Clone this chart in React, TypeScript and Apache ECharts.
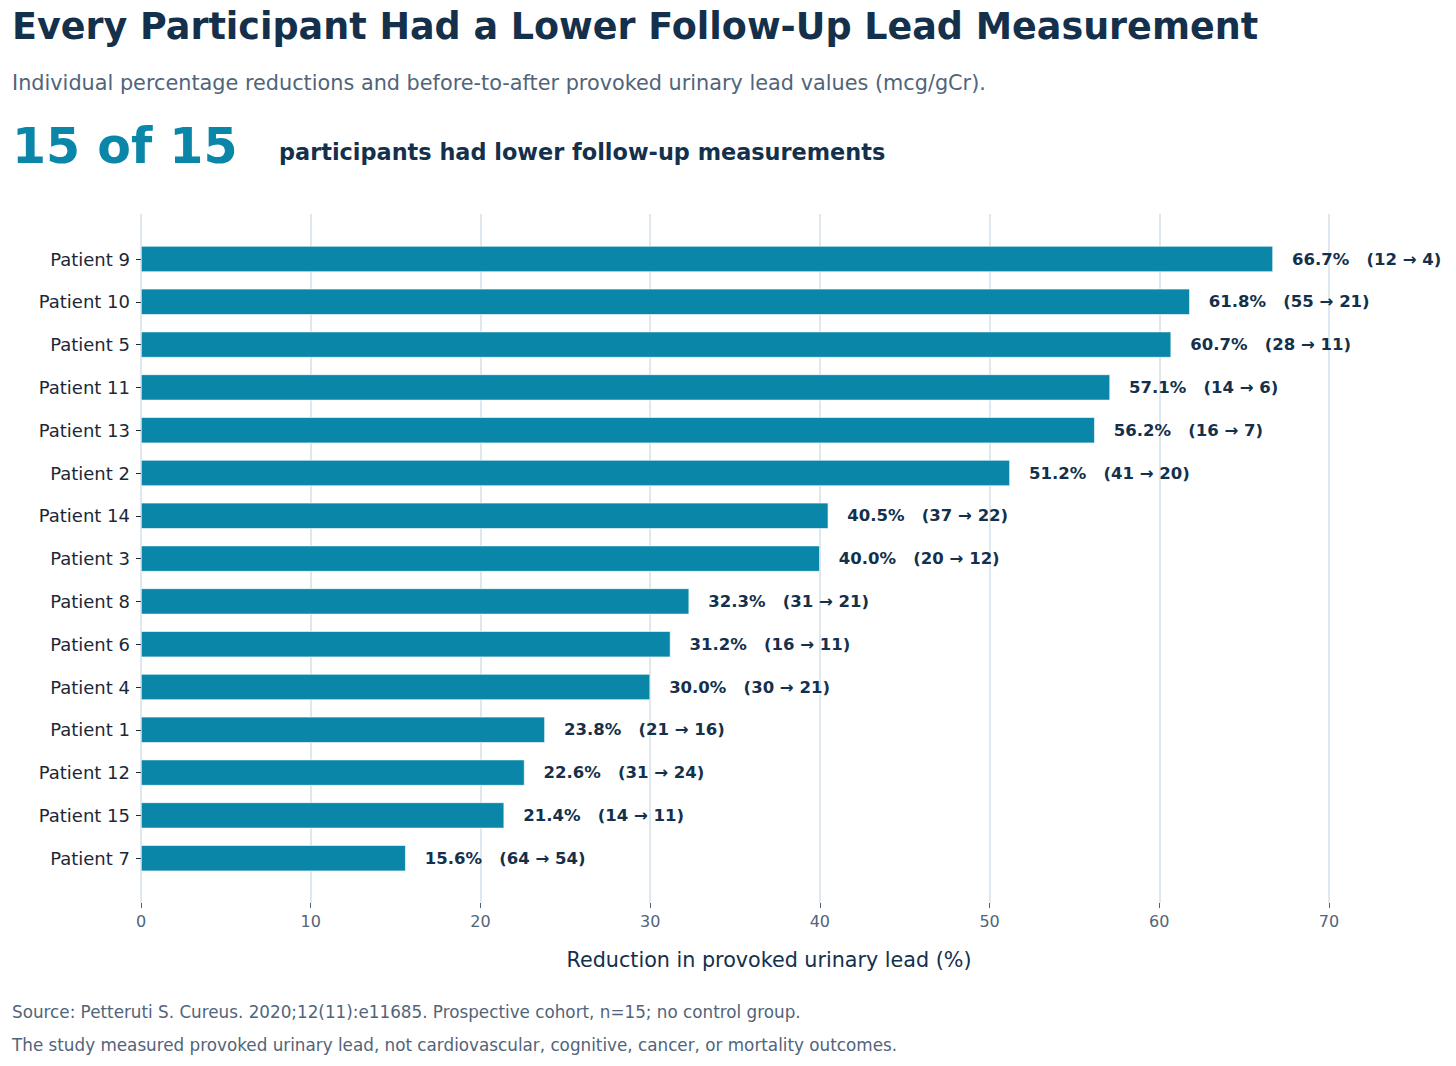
import React, { useEffect, useRef } from 'react';
import * as echarts from 'echarts';

// top-to-bottom order as shown
const patients = [
  'Patient 9', 'Patient 10', 'Patient 5', 'Patient 11', 'Patient 13',
  'Patient 2', 'Patient 14', 'Patient 3', 'Patient 8', 'Patient 6',
  'Patient 4', 'Patient 1', 'Patient 12', 'Patient 15', 'Patient 7',
];
const reductions = [66.7, 61.8, 60.7, 57.1, 56.2, 51.2, 40.5, 40.0, 32.3, 31.2, 30.0, 23.8, 22.6, 21.4, 15.6];
const before = [12, 55, 28, 14, 16, 41, 37, 20, 31, 16, 30, 21, 31, 14, 64];
const after = [4, 21, 11, 6, 7, 20, 22, 12, 21, 11, 21, 16, 24, 11, 54];
const xTicks = [0, 10, 20, 30, 40, 50, 60, 70];

const FONT = '"DejaVu Sans", sans-serif';
const NAVY = '#14304b';
const GREY = '#51647a';
const TEAL = '#0a86a9';

const App: React.FC = () => {
  const chartRef = useRef<HTMLDivElement>(null);

  useEffect(() => {
    const chart = echarts.init(chartRef.current!, undefined, { renderer: 'svg' });

    const gridLeft = 141;
    const gridWidth = 1188; // 0..70
    const band = 42.8;

    const option = {
      animation: false,
      backgroundColor: '#ffffff',
      textStyle: { fontFamily: FONT },
      grid: [
        { left: gridLeft, width: gridWidth, top: 259 - band / 2, height: band * 15, containLabel: false },
        { left: gridLeft, width: gridWidth, top: 214, height: 689, containLabel: false },
      ],
      xAxis: [
        {
          gridIndex: 0,
          type: 'value',
          min: 0,
          max: xTicks[xTicks.length - 1],
          show: false,
        },
        {
          gridIndex: 1,
          type: 'value',
          min: 0,
          max: xTicks[xTicks.length - 1],
          interval: 10,
          axisLine: { show: false },
          axisTick: { show: true, length: 5, lineStyle: { color: '#51647a', width: 1 } },
          axisLabel: { color: GREY, fontSize: 16, fontFamily: FONT, margin: 10 },
          splitLine: { show: true, lineStyle: { color: '#d5e1ea', width: 1.5 } },
        },
      ],
      yAxis: [
        {
          gridIndex: 0,
          type: 'category',
          data: patients,
          inverse: true,
          axisLine: { show: false },
          axisTick: { show: true, alignWithLabel: true, length: 5, lineStyle: { color: '#1c2836' } },
          axisLabel: { color: '#1c2836', fontSize: 18, fontFamily: FONT, margin: 11 },
          splitLine: { show: false },
        },
        {
          gridIndex: 1,
          type: 'value',
          min: 0,
          max: 1,
          show: false,
        },
      ],
      series: [
        {
          type: 'bar',
          xAxisIndex: 0,
          yAxisIndex: 0,
          data: reductions,
          barWidth: 26,
          itemStyle: { color: TEAL, borderColor: '#ffffff', borderWidth: 0.6 },
          label: {
            show: true,
            position: 'right',
            distance: 19,
            color: NAVY,
            fontSize: 16.5,
            fontWeight: 'bold',
            fontFamily: FONT,
            formatter: (p: any) =>
              `${reductions[p.dataIndex].toFixed(1)}%   (${before[p.dataIndex]} → ${after[p.dataIndex]})`,
          },
        },
      ],
      graphic: [
        {
          type: 'text',
          left: 12,
          top: 8,
          style: {
            text: 'Every Participant Had a Lower Follow-Up Lead Measurement',
            fill: NAVY,
            font: `bold 36.5px ${FONT}`,
          },
        },
        {
          type: 'text',
          left: 12,
          top: 72,
          style: {
            text: 'Individual percentage reductions and before-to-after provoked urinary lead values (mcg/gCr).',
            fill: GREY,
            font: `20.8px ${FONT}`,
          },
        },
        {
          type: 'text',
          left: 12,
          top: 122,
          style: {
            text: '15 of 15',
            fill: TEAL,
            font: `bold 49px ${FONT}`,
          },
        },
        {
          type: 'text',
          left: 279,
          top: 141,
          style: {
            text: 'participants had lower follow-up measurements',
            fill: NAVY,
            font: `bold 22.4px ${FONT}`,
          },
        },
        {
          type: 'text',
          x: 769,
          y: 960,
          style: {
            text: 'Reduction in provoked urinary lead (%)',
            fill: NAVY,
            font: `20.7px ${FONT}`,
            align: 'center',
            verticalAlign: 'middle',
          },
        },
        {
          type: 'text',
          left: 12,
          top: 1003,
          style: {
            text: 'Source: Petteruti S. Cureus. 2020;12(11):e11685. Prospective cohort, n=15; no control group.',
            fill: GREY,
            font: `16.8px ${FONT}`,
          },
        },
        {
          type: 'text',
          left: 12,
          top: 1036,
          style: {
            text: 'The study measured provoked urinary lead, not cardiovascular, cognitive, cancer, or mortality outcomes.',
            fill: GREY,
            font: `16.8px ${FONT}`,
          },
        },
      ],
    };

    chart.setOption(option);

    return () => {
      chart.dispose();
    };
  }, []);

  return (
    <div
      ref={chartRef}
      style={{
        position: 'absolute',
        left: 0,
        top: 0,
        width: '1456px',
        height: '1066px',
      }}
    />
  );
};

export default App;
